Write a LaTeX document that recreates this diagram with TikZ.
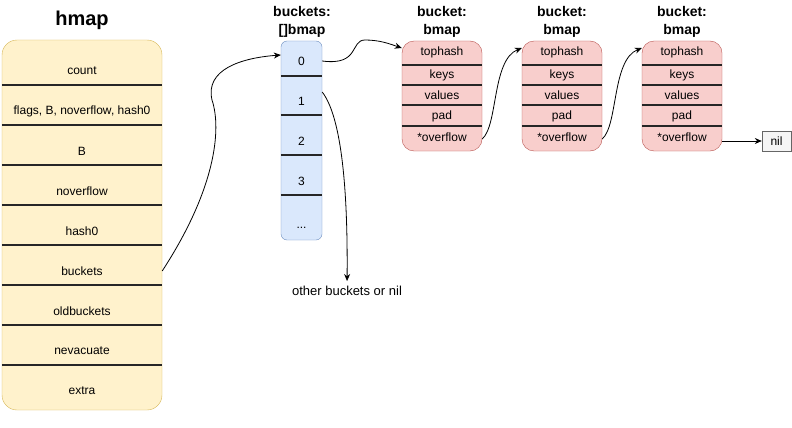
\documentclass[tikz,border=0pt]{standalone}
\usepackage{fontspec}
\setmainfont{Liberation Sans}
\usetikzlibrary{arrows.meta}

\definecolor{hmapfill}{HTML}{FFF2CC}
\definecolor{hmapline}{HTML}{D6B656}
\definecolor{arrfill}{HTML}{DAE8FC}
\definecolor{arrline}{HTML}{6C8EBF}
\definecolor{bktfill}{HTML}{F8CECC}
\definecolor{bktline}{HTML}{B85450}
\definecolor{nilfill}{HTML}{F5F5F5}
\definecolor{nilline}{HTML}{666666}

\begin{document}
\begin{tikzpicture}[x=1pt,y=-1pt,
every node/.style={inner sep=0pt},
field/.style={font=\fontsize{12}{14}\selectfont},
title/.style={font=\bfseries\fontsize{14}{18}\selectfont,align=center},
sep/.style={line width=1.5pt,black!85},
link/.style={line width=0.8pt,-{Stealth[length=7pt,width=6pt]}}]
\useasboundingbox (0,0) rectangle (792,428);

% hmap
\node[font=\bfseries\fontsize{20}{24}\selectfont] (hmaptitle) at (82,20) {hmap};
\node[draw=hmapline,fill=hmapfill,rounded corners=15pt,minimum width=160pt,minimum height=370pt] (hmap) at (82,225) {};
\foreach \y in {85,125,...,365}
  \draw[sep] (hmap.west |- 0,\y) -- (hmap.east |- 0,\y);
\foreach \t [count=\i] in {count,{flags, B, noverflow, hash0},B,noverflow,hash0,buckets,oldbuckets,nevacuate,extra}
  \node[field,minimum width=160pt] (h\i) at (82,31+40*\i) {\t};

% buckets array
\node[title] (arrtitle) at (302,22) {buckets:\\{[]bmap}};
\node[draw=arrline,fill=arrfill,rounded corners=6pt,minimum width=41pt,minimum height=199pt] (arr) at (301.5,140.5) {};
\foreach \y in {76,115,155,195}
  \draw[sep] (arr.west |- 0,\y) -- (arr.east |- 0,\y);
\foreach \t [count=\i from 0] in {0,1,2,3}
  \node[field,minimum width=41pt] (b\t) at (301.5,61+40*\i) {\t};
\node[field,minimum width=41pt] (bdots) at (301.5,228) {...};
\node[font=\fontsize{13}{15}\selectfont] (other) at (347,291) {other buckets or nil};

% bmap buckets
\foreach \n/\x in {1/442,2/562,3/682} {
  \node[title] (t\n) at (\x,22) {bucket:\\bmap};
  \node[draw=bktline,fill=bktfill,rounded corners=12pt,minimum width=80pt,minimum height=110pt] (bkt\n) at (\x,96) {};
  \foreach \y in {65,85,105,126}
    \draw[sep] (bkt\n.west |- 0,\y) -- (bkt\n.east |- 0,\y);
  \node[field,minimum width=80pt] (top\n) at (\x,52) {tophash};
  \node[field,minimum width=80pt] (keys\n) at (\x,75) {keys};
  \node[field,minimum width=80pt] (val\n) at (\x,95) {values};
  \node[field,minimum width=80pt] (pad\n) at (\x,116) {pad};
  \node[field,minimum width=80pt] (ovf\n) at (\x,137) {*overflow};
}
\node[field,draw=nilline,fill=nilfill,minimum width=29pt,minimum height=20pt] (nil) at (776.5,141) {nil};

% links
\draw[link] (h6.east) .. controls (215,190) and (222,130) .. (212,100)
  .. controls (205,70) and (240,58) .. ([yshift=6pt]b0.west);
\draw[link] (b0.east) .. controls (360,66) and (350,40) .. (365,40)
  .. controls (380,40) and (390,44) .. ([yshift=4pt]top1.west);
\draw[link,shorten >=5pt] ([yshift=9pt]b1.east) .. controls (340,115) and (348,180) .. (other.north);
\foreach \a/\b in {1/2,2/3}
  \draw[link] ([yshift=-2pt]ovf\a.east) .. controls +(16,-14) and +(-30,12) .. ([yshift=4pt]top\b.west);
\draw[link] (ovf3.east |- nil.west) -- (nil.west);
\end{tikzpicture}
\end{document}
